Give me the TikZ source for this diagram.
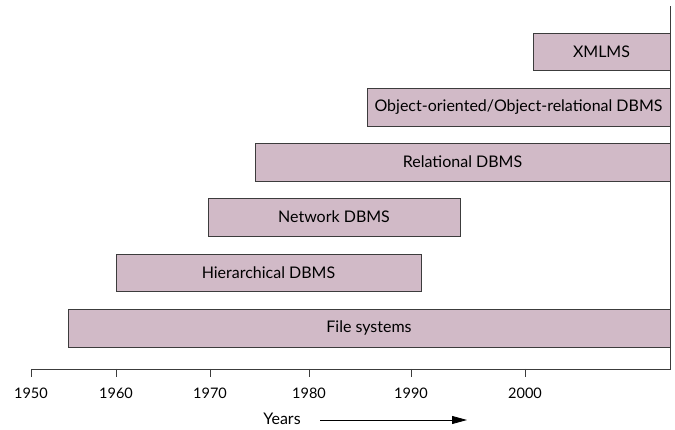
\documentclass[tikz,border=0pt]{standalone}
\usepackage{fontspec}
\setmainfont{Lato}
\usetikzlibrary{arrows.meta}
\usetikzlibrary{positioning}
\definecolor{barfill}{RGB}{209,186,199}
\definecolor{barline}{RGB}{60,60,60}

\begin{document}
\begin{tikzpicture}[
    x=1pt, y=-1pt,
    font=\fontsize{16}{18}\selectfont,
    bar/.style={draw=barline, line width=0.9pt, fill=barfill, inner sep=0},
    axis/.style={draw=barline, line width=0.9pt},
    tick/.style={font=\fontsize{14.5}{16}\selectfont},
    arrow/.style={line width=0.8pt, >={Triangle[length=15pt,width=8pt]}},
    post/.style={arrow, ->}
  ]
  \useasboundingbox (0,0) rectangle (675,430);
  % period bars
  \node[bar, minimum width=137pt, minimum height=37pt] (xml) at (601.5,51.5) {XMLMS};
  \node[bar, minimum width=303pt, minimum height=38pt] (oo) at (518.5,107) {Object-oriented/Object-relational DBMS};
  \node[bar, minimum width=415pt, minimum height=38pt] (rel) at (462.5,162) {Relational DBMS};
  \node[bar, minimum width=252pt, minimum height=38pt] (net) at (334,217) {Network DBMS};
  \node[bar, minimum width=305pt, minimum height=37pt] (hier) at (268.5,272.5) {Hierarchical DBMS};
  \node[bar, minimum width=602pt, minimum height=38pt] (file) at (369,328) {File systems};

  % time axis
  \coordinate (top) at (670,6);
  \coordinate (astart) at (31,369);
  \coordinate (aend) at (670,369);
  \draw[axis] (astart) -- (aend) -- (top);
  \foreach \x/\yr in {31/1950, 116/1960, 210/1970, 309/1980, 411/1990, 525/2000}{
    \draw[axis] (\x,369) -- (\x,377);
    \node[tick] (y\yr) at (\x,393) {\yr};
  }
  \node (years) at (282,419) {Years};
  \coordinate (aim) at (467,420);
  \draw[post] ([xshift=16pt,yshift=-1pt]years.east) -- (aim);
\end{tikzpicture}
\end{document}
